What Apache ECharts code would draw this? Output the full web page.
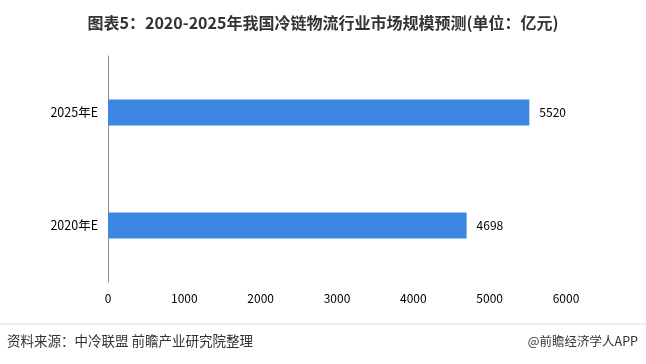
<!DOCTYPE html>
<html>
<head>
<meta charset="utf-8">
<script src="https://cdn.jsdelivr.net/npm/echarts@6/dist/echarts.min.js"></script>
<style>
html,body{margin:0;padding:0;background:#fff;}
#c{width:646px;height:364px;}
</style>
</head>
<body>
<div id="c"></div>
<script>
var categories = ['2020年E', '2025年E'];
var values = [4698, 5520];
var xTicks = {min: 0, max: 6000, interval: 1000};

var chart = echarts.init(document.getElementById('c'), null, {renderer: 'canvas'});
chart.setOption({
  backgroundColor: '#fff',
  animation: false,
  title: {
    text: '图表5：2020-2025年我国冷链物流行业市场规模预测(单位：亿元)',
    left: 'center',
    top: 10,
    textStyle: {fontFamily: 'Noto Sans CJK SC', fontWeight: 'bold', fontSize: 16, color: '#333'}
  },
  grid: {left: 108, right: 80, top: 56, bottom: 82, containLabel: false},
  xAxis: {
    type: 'value',
    min: xTicks.min, max: xTicks.max, interval: xTicks.interval,
    axisLine: {show: false},
    axisTick: {show: false},
    splitLine: {show: false},
    axisLabel: {color: '#000', fontSize: 12, fontFamily: 'Noto Sans CJK SC', margin: 10,
      formatter: function (v) { return String(v); }}
  },
  yAxis: {
    type: 'category',
    data: categories,
    axisLine: {show: true, lineStyle: {color: '#8c8c8c', width: 1}},
    axisTick: {show: false},
    axisLabel: {color: '#000', fontSize: 12.5, fontFamily: 'Noto Sans CJK SC', margin: 10}
  },
  series: [{
    type: 'bar',
    data: values,
    barWidth: 26,
    itemStyle: {color: '#3d87e3'},
    label: {show: true, position: 'right', distance: 10, color: '#000', fontSize: 12, fontFamily: 'Noto Sans CJK SC'}
  }],
  graphic: [
    {type: 'rect', left: 0, top: 323, shape: {width: 646, height: 2}, style: {fill: '#e6edf5'}},
    {type: 'text', left: 7, top: 334, style: {text: '资料来源：中冷联盟 前瞻产业研究院整理', fontSize: 13.5, fontFamily: 'Noto Sans CJK SC', fill: '#333'}},
    {type: 'text', right: 8, top: 335, style: {text: '@前瞻经济学人APP', fontSize: 12.5, fontFamily: 'Noto Sans CJK SC', fill: '#333'}}
  ]
});
</script>
</body>
</html>
